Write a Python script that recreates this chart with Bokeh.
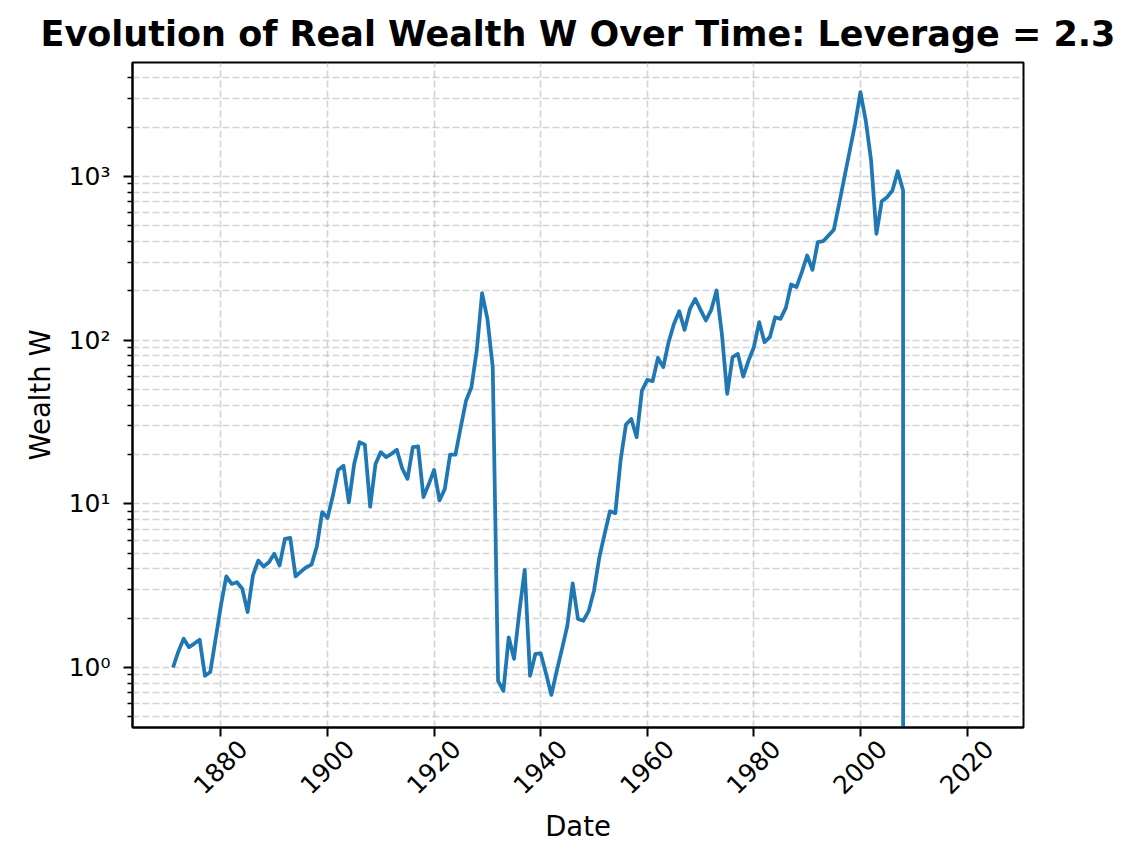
import math
from bokeh.plotting import figure
from bokeh.models import (Range1d, FixedTicker, ColumnDataSource, LinearAxis,
                          CustomJSTickFormatter)
from bokeh.embed import file_html
from bokeh.resources import INLINE

# ---------------- data ----------------
first_year = 1871
wealth = [
    1.0, 1.25, 1.50, 1.33, 1.40, 1.48, 0.89, 0.94, 1.5, 2.4,          # 1871-1880
    3.6, 3.24, 3.32, 3.03, 2.18, 3.65, 4.5, 4.14, 4.4, 4.95,          # 1881-1890
    4.2, 6.1, 6.2, 3.6, 3.85, 4.1, 4.25, 5.5, 8.9, 8.2,               # 1891-1900
    11.2, 16.1, 17.1, 10.2, 17.5, 23.8, 23.0, 9.6, 17.5, 20.7,        # 1901-1910
    19.3, 20.2, 21.4, 16.5, 14.2, 22.2, 22.4, 11.0, 13.2, 16.1,       # 1911-1920
    10.5, 12.3, 20.0, 20.0, 29.4, 42.8, 51.5, 86.3, 193.6, 135.0,     # 1921-1930
    68.4, 0.83, 0.72, 1.53, 1.13, 2.2, 3.95, 0.89, 1.21, 1.22,        # 1931-1940
    0.92, 0.68, 0.95, 1.3, 1.8, 3.27, 1.98, 1.93, 2.21, 2.95,         # 1941-1950
    4.7, 6.55, 9.0, 8.77, 18.5, 30.5, 33.0, 25.5, 49.2, 57.2,         # 1951-1960
    56.1, 77.9, 68.4, 97.1, 125.6, 150.2, 115.5, 155.0, 178.7, 153.0, # 1961-1970
    131.8, 153.0, 201.0, 109.0, 47.0, 78.7, 82.4, 59.9, 75.0, 90.5,   # 1971-1980
    128.8, 97.1, 104.2, 138.0, 134.9, 157.4, 218.6, 210.6, 260.0, 328.7,  # 1981-1990
    268.6, 396.5, 402.0, 435.0, 472.0, 680.0, 989.0, 1439.0, 2094.0, 3272.0,  # 1991-2000
    2194.0, 1250.0, 446.0, 706.0, 747.0, 820.0, 1076.0, 820.0,        # 2001-2008
]
# after 2008 the leveraged portfolio is wiped out: wealth 0 until 2023
ruin_years = list(range(2009, 2024))
ruin_wealth = [0.0] * len(ruin_years)

x_ticks = [1880, 1900, 1920, 1940, 1960, 1980, 2000, 2020]
y_ticks = [1, 10, 100, 1000]
y_tick_labels = ["10\u2070", "10\u00b9", "10\u00b2", "10\u00b3"]

title = "Evolution of Real Wealth W Over Time: Leverage = 2.3"
x_label = "Date"
y_label = "Wealth W"

# ---------------- build ----------------
years = list(range(first_year, first_year + len(wealth))) + ruin_years
values = wealth + ruin_wealth
# log axis: non-positive values are clipped to a tiny number (like matplotlib)
plot_values = [v if v > 0 else 1e-300 for v in values]
src = ColumnDataSource(data=dict(year=years, w=plot_values))

span = years[-1] - years[0]
x_range = Range1d(years[0] - 0.05 * span, years[-1] + 0.05 * span)
y_range = Range1d(10 ** -0.3665, 10 ** 3.696)

FONT = "DejaVu Sans"
GRID = "#b0b0b0"
W, H = 1130, 854
BL, BR, BT, BB = 132, 107, 62, 127

p = figure(width=W, height=H, x_range=x_range, y_range=y_range,
           y_axis_type="log", output_backend="svg", toolbar_location=None,
           title=title,
           min_border_left=BL, min_border_right=BR,
           min_border_top=BT, min_border_bottom=BB)

p.title.text_font = FONT
p.title.text_font_size = "35px"
p.title.text_font_style = "bold"
p.title.align = "center"
p.title.text_color = "black"
p.title.standoff = 18

p.line("year", "w", source=src, line_color="#1f77b4", line_width=3.75,
       line_join="round")

# main x axis: tick marks only
p.xaxis.ticker = FixedTicker(ticks=x_ticks)
p.xaxis.formatter = CustomJSTickFormatter(code="return ''")
p.xaxis.major_label_text_font_size = "0px"
p.xaxis.major_label_standoff = 0

minor = [m * 10 ** e for e in range(-1, 4) for m in range(2, 10)]
minor = [m for m in minor if 0.43 < m < 5000 and m not in y_ticks]
p.yaxis.ticker = FixedTicker(ticks=y_ticks, minor_ticks=minor)
p.yaxis.major_label_overrides = {t: lab for t, lab in zip(y_ticks, y_tick_labels)}
p.yaxis.axis_label = y_label

for ax in (p.xaxis, p.yaxis):
    ax.axis_label_text_font = FONT
    ax.axis_label_text_font_size = "27.5px"
    ax.axis_label_text_font_style = "normal"
    ax.axis_label_text_color = "black"
    ax.major_label_text_font = FONT
    ax.major_label_text_color = "black"
    ax.axis_line_color = "black"
    ax.axis_line_width = 2
    ax.major_tick_line_color = "black"
    ax.major_tick_line_width = 2
    ax.major_tick_out = 9
    ax.major_tick_in = 0
    ax.minor_tick_line_color = "black"
    ax.minor_tick_line_width = 1.5
    ax.minor_tick_out = 5
    ax.minor_tick_in = 0

p.yaxis.major_label_text_font_size = "25px"
p.yaxis.major_label_standoff = 13
p.yaxis.axis_label_standoff = 10
p.xaxis.minor_tick_line_color = None

# label axis: rotated year labels centred under their ticks (matplotlib style)
frame_w = W - BL - BR
shift = 22 * (x_range.end - x_range.start) / frame_w
p.extra_x_ranges = {"lab": Range1d(x_range.start - shift, x_range.end - shift)}
lab_axis = LinearAxis(x_range_name="lab", ticker=FixedTicker(ticks=x_ticks),
                      axis_label=x_label)
lab_axis.major_label_orientation = math.pi / 4
lab_axis.major_label_text_font = FONT
lab_axis.major_label_text_font_size = "25px"
lab_axis.major_label_text_color = "black"
lab_axis.major_label_standoff = 8
lab_axis.axis_line_color = None
lab_axis.major_tick_line_color = None
lab_axis.minor_tick_line_color = None
lab_axis.major_tick_out = 0
lab_axis.major_tick_in = 0
lab_axis.minor_tick_out = 0
lab_axis.axis_label_text_font = FONT
lab_axis.axis_label_text_font_size = "27.5px"
lab_axis.axis_label_text_font_style = "normal"
lab_axis.axis_label_text_color = "black"
lab_axis.axis_label_standoff = 5
p.add_layout(lab_axis, "below")

for g in (p.xgrid, p.ygrid):
    g.grid_line_color = GRID
    g.grid_line_alpha = 0.55
    g.grid_line_width = 1.6
    g.grid_line_dash = "7 3"
p.ygrid.minor_grid_line_color = GRID
p.ygrid.minor_grid_line_alpha = 0.55
p.ygrid.minor_grid_line_width = 1.6
p.ygrid.minor_grid_line_dash = "7 3"

p.outline_line_color = "black"
p.outline_line_width = 2
p.outline_line_alpha = 1.0
p.background_fill_color = "white"
p.border_fill_color = "white"

open("out.html", "w").write(file_html(p, INLINE))
